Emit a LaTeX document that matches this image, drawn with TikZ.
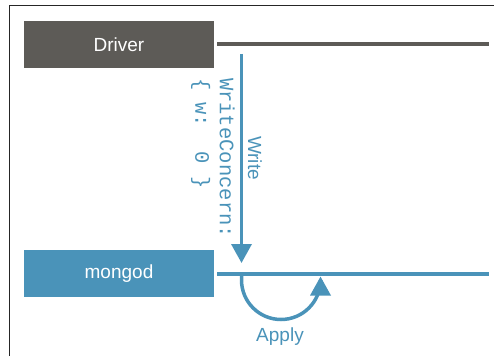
\documentclass[tikz,border=0pt]{standalone}
\usepackage{fontspec}
\setmainfont{Liberation Sans}
\newfontfamily\monofnt{Liberation Mono}
\usetikzlibrary{arrows.meta}
\definecolor{mblue}{HTML}{4A93B9}
\definecolor{dgray}{HTML}{5D5B57}
\begin{document}
\begin{tikzpicture}[x=1pt,y=1pt,
  box/.style={rectangle, minimum width=190pt, minimum height=47pt, inner sep=0pt, text=white, font=\fontsize{19}{23}\selectfont},
  timeline/.style={line width=3.7pt},
  flow/.style={line width=3.5pt, draw=mblue, -{Triangle[width=20pt,length=19pt]}},
  lbl/.style={text=mblue, font=\fontsize{19}{23}\selectfont, inner sep=0pt}]
\useasboundingbox (0,0) rectangle (494,356);
\draw[line width=1.5pt, black!85] (9.5,0) -- (9.5,350.5) -- (494,350.5);
\node[box, fill=dgray] (drv) at (119,311.5) {Driver};
\node[box, fill=mblue] (mg) at (119,82.5) {mongod};
\coordinate (dEnd) at (489,312.3);
\coordinate (mEnd) at (489,82.3);
\draw[timeline, dgray] ([xshift=3pt]drv.east |- dEnd) -- (dEnd);
\draw[timeline, mblue] ([xshift=3pt]mg.east |- mEnd) -- (mEnd);
\coordinate (wTop) at (241.5,302);
\coordinate (wTip) at (241.5,93);
\draw[flow] (wTop) -- (wTip);
\node[lbl, rotate=-90] (wlbl) at (255,198) {Write};
\node[lbl, rotate=-90, align=left, font=\monofnt\fontsize{20.5}{24.5}\selectfont] (wc) at (213,198) {WriteConcern:\\\{ w:\ \ 0 \}};
\coordinate (aStart) at (241.5,82.3);
\draw[flow] (aStart) -- (241.5,76) arc[start angle=180, end angle=360, radius=39.5pt] -- (320.5,79.5);
\node[lbl] (apply) at (280,19) {Apply};
\end{tikzpicture}
\end{document}
